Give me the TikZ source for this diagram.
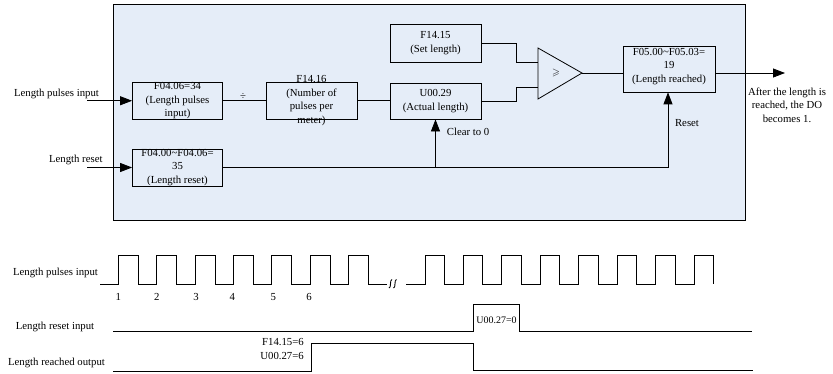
\documentclass[tikz,border=0pt]{standalone}
\usepackage{amssymb}
\usepackage{fontspec}
\setmainfont{Liberation Serif}
\usetikzlibrary{arrows.meta}
\definecolor{panelblue}{RGB}{229,237,248}
\begin{document}
\begin{tikzpicture}[x=1bp,y=-1bp,
  txt/.style={font=\fontsize{10.8}{13.7}\selectfont, align=center, inner sep=0pt},
  blk/.style={draw, fill=panelblue, line width=0.8bp, inner sep=0pt},
  ln/.style={line width=0.8bp},
  arr/.style={ln, -{Triangle[length=12bp,width=9bp]}},
  sig/.style={line width=0.9bp, line join=miter}]
\useasboundingbox (0,0) rectangle (833,373);
% panel
\node[draw, fill=panelblue, line width=0.8bp, minimum width=632bp, minimum height=216bp, inner sep=0pt] (panel) at (429,112) {};
% blocks
\node[blk, minimum width=90bp, minimum height=36.5bp] (pin) at (177.5,100.75) {};
\node[txt] at (pin) {F04.06=34\\(Length pulses\\input)};
\node[blk, minimum width=91bp, minimum height=36.5bp] (ppm) at (311.5,100.75) {};
\node[txt] at (ppm) {F14.16\\(Number of\\pulses per\\meter)};
\node[blk, minimum width=91bp, minimum height=36bp] (act) at (435.5,101) {};
\node[txt] at (act) {U00.29\\(Actual length)};
\node[blk, minimum width=91bp, minimum height=38bp] (set) at (435.5,43) {};
\node[txt] at (set) {F14.15\\(Set length)};
\node[blk, minimum width=90bp, minimum height=37bp] (rst) at (177.5,167.5) {};
\node[txt] at (rst) {F04.00\textasciitilde F04.06=\\35\\(Length reset)};
\node[blk, minimum width=92bp, minimum height=45.3bp] (reach) at (669,69.3) {};
\node[txt] at (669,66.5) {F05.00\textasciitilde F05.03=\\19\\(Length reached)};
% comparator
\coordinate (cA) at (538,48);
\coordinate (cB) at (538,99);
\coordinate (cC) at (582,73);
\coordinate (cin1) at (538,62);
\coordinate (cin2) at (538,87);
\draw[ln, fill=panelblue] (cA) -- (cC) -- (cB) -- cycle;
\node[inner sep=0pt] (cmp) at (556,73) {$\geqslant$};
% connectors
\draw[ln] (pin.east) -- (ppm.west);
\node[txt] (div) at (243,96) {÷};
\draw[ln] (ppm.east) -- (ppm.east -| act.west);
\draw[ln] (set.east) -- ++(35,0) |- (cin1);
\draw[ln] (act.east) -- ++(35,0) |- (cin2);
\draw[ln] (cC) -- (cC -| reach.west);
\coordinate (doout) at (785,73);
\draw[arr] (cC -| reach.east) -- (doout);
\node[txt] (donote) at (787,105) {After the length is\\reached, the DO\\becomes 1.};
% inputs
\coordinate (inP) at (87,100.75);
\draw[arr] (inP) -- (pin.west);
\node[txt] (lpi) at (56.5,94) {Length pulses input};
\coordinate (inR) at (87,167.5);
\draw[arr] (inR) -- (rst.west);
\node[txt] (lr) at (75.8,160) {Length reset};
% reset lines
\coordinate (jr) at (668,167.5);
\coordinate (jc) at (435.5,167.5);
\draw[arr] (rst.east) -- (jr) -- (jr |- reach.south);
\draw[arr] (jc) -- (act.south);
\node[txt, anchor=west] (clr) at (446.7,132) {Clear to 0};
\node[txt] (rsl) at (687,123) {Reset};
% timing diagram
\node[txt] (t1) at (55.5,273) {Length pulses input};
\node[txt] (t2) at (55,326.7) {Length reset input};
\node[txt] (t3) at (56.5,363.3) {Length reached output};
\draw[sig] (100,284.3) foreach \i in {0,...,6} { -- ({118.3+38.33*\i},284.3) -- ++(0,-28.6) -- ++(20,0) -- ++(0,28.6) } -- (386.7,284.3);
\draw[sig] (389,288) .. controls (391.5,288) and (389.5,279.5) .. (392,279.5);
\draw[sig] (393.5,288) .. controls (396,288) and (394,279.5) .. (396.5,279.5);
\draw[sig] (406,284.3) foreach \i in {0,...,7} { -- ({425+38.47*\i},284.3) -- ++(0,-28.6) -- ++(19.3,0) -- ++(0,28.6) };
\foreach \x/\n in {118.3/1,156.7/2,196/3,232.3/4,273.3/5,309/6} \node[txt] at (\x,296.7) {\n};
\draw[sig] (113,331) -- (473.3,331) -- (473.3,304) -- (519.3,304) -- (519.3,331) -- (751.7,331);
\node[txt, font=\fontsize{10}{12}\selectfont] (u0) at (496.5,320) {U00.27=0};
\draw[sig] (113,371.3) -- (311,371.3) -- (311,343.3) -- (473.3,343.3) -- (473.3,370.5) -- (753.3,370.5);
\node[txt, anchor=east, align=right] (f6) at (304,349) {F14.15=6\\U00.27=6};
\end{tikzpicture}
\end{document}
